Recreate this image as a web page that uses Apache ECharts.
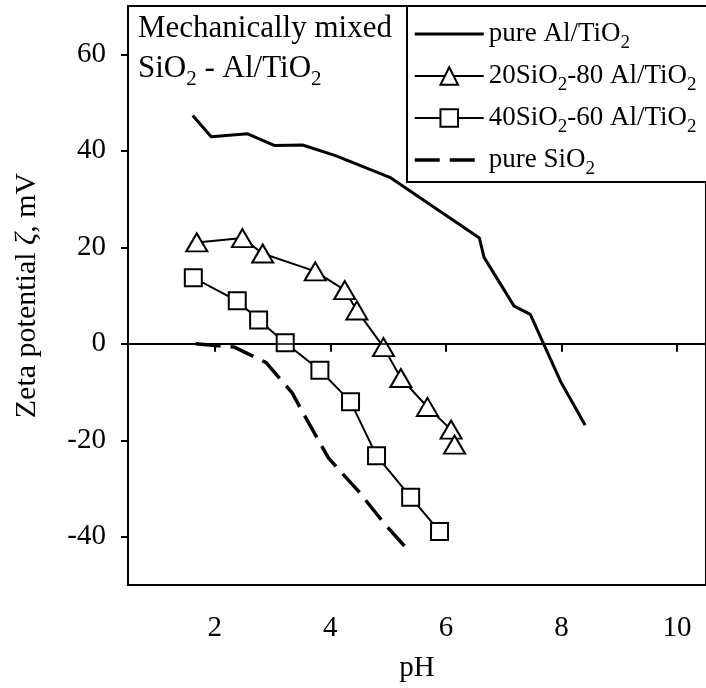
<!DOCTYPE html>
<html>
<head>
<meta charset="utf-8">
<script src="https://cdn.jsdelivr.net/npm/echarts@6/dist/echarts.min.js"></script>
<style>
html,body{margin:0;padding:0;background:#fff;}
#chart{width:706px;height:688px;}
</style>
</head>
<body>
<div id="chart"></div>
<script>
// ---- data ----
const xTicks = [2, 4, 6, 8, 10];
const yTicks = [-40, -20, 0, 20, 40, 60];

const alName = 'pure Al/TiO2';
const alX = [1.62, 1.94, 2.57, 3.03, 3.52, 4.09, 5.03, 6.58, 6.66, 7.18, 7.46, 7.98, 8.41];
const alY = [47.3, 42.9, 43.5, 41.1, 41.2, 39.0, 34.5, 21.9, 17.9, 7.8, 6.1, -7.7, -16.9];

const s20Name = '20SiO2-80 Al/TiO2';
const s20X = [1.69, 2.48, 2.83, 3.74, 4.25, 4.46, 4.92, 5.22, 5.68, 6.09, 6.15];
const s20Y = [21.0, 21.9, 18.7, 15.0, 11.1, 6.9, -0.7, -7.1, -13.1, -17.8, -20.9];

const s40Name = '40SiO2-60 Al/TiO2';
const s40X = [1.63, 2.39, 2.76, 3.22, 3.82, 4.35, 4.80, 5.39, 5.89];
const s40Y = [13.7, 8.9, 4.9, 0.2, -5.5, -12.0, -23.2, -31.8, -38.9];

const siName = 'pure SiO2';
const siX = [1.67, 2.34, 2.89, 3.34, 3.56, 3.97, 4.49, 4.95, 5.29];
const siY = [0, -0.7, -3.9, -10.2, -15.0, -23.7, -30.6, -37.5, -42.0];

const zip = (xs, ys) => xs.map((x, i) => [x, ys[i]]);

const FONT = '"Liberation Serif", "Times New Roman", serif';
const subStyle = { fontSize: 19, lineHeight: 19, padding: [19, 0, 0, 0], fontFamily: FONT, color: '#000' };
const hidden = { opacity: 0, borderWidth: 0, color: 'rgba(0,0,0,0)' };

const chart = echarts.init(document.getElementById('chart'), null, { renderer: 'canvas' });

const option = {
  backgroundColor: '#fff',
  animation: false,
  grid: {
    left: 128, top: 6, width: 582, height: 579,
    show: true, borderColor: '#000', borderWidth: 2, backgroundColor: 'transparent'
  },
  xAxis: {
    type: 'value', min: 0.5, max: 10.5,
    name: 'pH', nameLocation: 'middle', nameGap: 69,
    nameTextStyle: { fontFamily: FONT, fontSize: 29, color: '#000' },
    axisLine: { show: true, lineStyle: { color: '#000', width: 2 } },
    axisTick: { show: true, length: 8, lineStyle: { color: '#000', width: 2 }, customValues: xTicks },
    axisLabel: { customValues: xTicks, margin: 29, fontFamily: FONT, fontSize: 29, color: '#000' },
    splitLine: { show: false }
  },
  yAxis: {
    type: 'value', min: -50, max: 70,
    name: 'Zeta potential {i|ζ}, mV', nameLocation: 'middle', nameGap: 86, nameRotate: 90,
    nameTextStyle: {
      fontFamily: FONT, fontSize: 30, color: '#000',
      rich: { i: { fontFamily: FONT, fontSize: 30, fontStyle: 'italic', color: '#000' } }
    },
    axisLine: { show: true, lineStyle: { color: '#000', width: 2 } },
    axisTick: { show: true, length: 7, lineStyle: { color: '#000', width: 2 }, customValues: yTicks },
    axisLabel: { customValues: yTicks, margin: 22, fontFamily: FONT, fontSize: 29, color: '#000' },
    splitLine: { show: false }
  },
  legend: {
    orient: 'vertical', left: 407, top: 6,
    padding: [9, 90, 3, 6],
    itemWidth: 69, itemHeight: 22, itemGap: 4, itemTextGap: 25,
    backgroundColor: '#fff', borderColor: '#000', borderWidth: 2, borderRadius: 0,
    data: [
      { name: alName, itemStyle: hidden, lineStyle: { width: 3 } },
      { name: s20Name, lineStyle: { width: 2 } },
      { name: s40Name, lineStyle: { width: 2 } },
      { name: siName, itemStyle: hidden, lineStyle: { width: 3.5 } }
    ],
    formatter: n => n.replace(/O2/g, 'O{sub|2}'),
    textStyle: {
      fontFamily: FONT, fontSize: 27, lineHeight: 38, color: '#000',
      rich: { sub: subStyle }
    }
  },
  graphic: [{
    type: 'text', left: 138, top: 9, z: 10,
    style: {
      text: 'Mechanically mixed\nSiO{sub|2} - Al/TiO{sub|2}',
      fontFamily: FONT, fontSize: 31, lineHeight: 40, fill: '#000',
      rich: { sub: { fontSize: 21, lineHeight: 21, padding: [21, 0, 0, 0], fontFamily: FONT, fill: '#000' } }
    }
  }],
  series: [
    {
      name: alName, type: 'line', data: zip(alX, alY),
      symbol: 'none', lineStyle: { color: '#000', width: 3 }, itemStyle: { color: '#000' },
      markLine: {
        silent: true, symbol: 'none', label: { show: false },
        lineStyle: { color: '#000', width: 1.5, type: 'solid' },
        data: [{ yAxis: 0 }]
      }
    },
    {
      name: s20Name, type: 'line', data: zip(s20X, s20Y),
      symbol: 'triangle', symbolSize: [21, 18], showAllSymbol: true,
      lineStyle: { color: '#000', width: 2 },
      itemStyle: { color: '#fff', borderColor: '#000', borderWidth: 2 }
    },
    {
      name: s40Name, type: 'line', data: zip(s40X, s40Y),
      symbol: 'rect', symbolSize: 17, showAllSymbol: true,
      lineStyle: { color: '#000', width: 2 },
      itemStyle: { color: '#fff', borderColor: '#000', borderWidth: 2 }
    },
    {
      name: siName, type: 'line', data: zip(siX, siY),
      symbol: 'none',
      lineStyle: { color: '#000', width: 3.5, type: [25, 10] },
      itemStyle: { color: '#000' }
    }
  ]
};
chart.setOption(option);
</script>
</body>
</html>
